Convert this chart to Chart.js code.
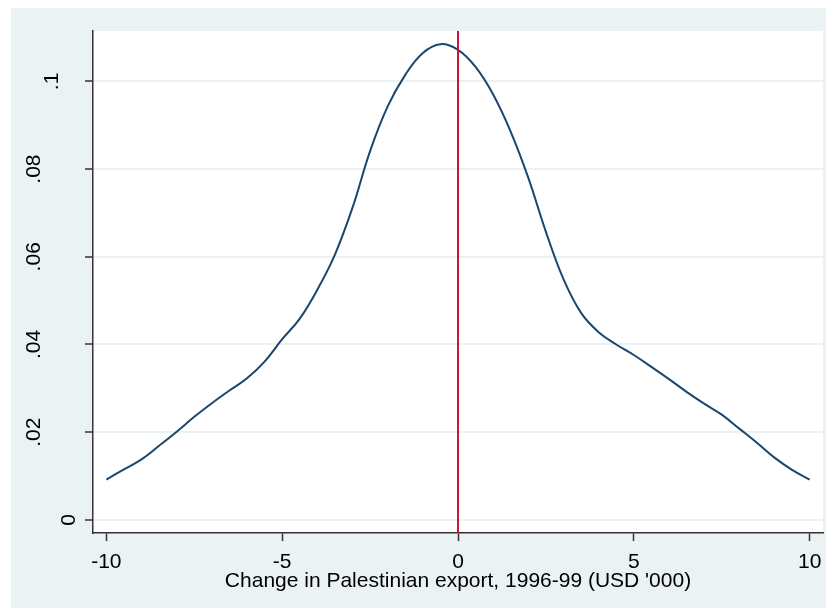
<!DOCTYPE html>
<html>
<head>
<meta charset="utf-8">
<script src="https://cdn.jsdelivr.net/npm/chart.js@4"></script>
<style>
  body { margin: 0; background: #fff; }
</style>
</head>
<body>
<canvas id="kdens" width="832" height="609"></canvas>
<script>
// kernel density of the change in exports
const xValues = [-10, -9.5, -9, -8.5, -8, -7.5, -7, -6.5, -6, -5.5, -5, -4.5, -4, -3.5, -3, -2.5, -2, -1.5, -1, -0.5,
                 0, 0.5, 1, 1.5, 2, 2.5, 3, 3.5, 4, 4.5, 5, 5.5, 6, 6.5, 7, 7.5, 8, 8.5, 9, 9.5, 10];
const density = [0.0092, 0.0115, 0.0138, 0.0169, 0.0201, 0.0235, 0.0266, 0.0295, 0.0323, 0.0361, 0.0412, 0.0459, 0.0525, 0.0605, 0.0712, 0.0841, 0.0943, 0.1015, 0.1065, 0.1085,
                 0.1072, 0.1033, 0.0970, 0.0885, 0.0780, 0.0657, 0.0549, 0.0472, 0.0428, 0.0400, 0.0376, 0.0349, 0.0321, 0.0292, 0.0265, 0.0240, 0.0208, 0.0176, 0.0142, 0.0114, 0.0092];

const xTicks = [-10, -5, 0, 5, 10];
const yTicks = [0, 0.02, 0.04, 0.06, 0.08, 0.1];
const yTickLabels = ['0', '.02', '.04', '.06', '.08', '.1'];
const refLineX = 0;
const xTitle = "Change in Palestinian export, 1996-99 (USD '000)";

const FONT = 'Arial, "Liberation Sans", sans-serif';
const FSIZE = 21;

// grey panel behind the plot, white plot region
const backdrop = {
    id: 'backdrop',
    beforeDraw(chart) {
        const ctx = chart.ctx;
        const a = chart.chartArea;
        ctx.save();
        ctx.fillStyle = '#eaf2f3';
        ctx.fillRect(11, 8, 815, 600);
        ctx.fillStyle = '#ffffff';
        ctx.fillRect(a.left, a.top, a.right - a.left, a.bottom - a.top);
        ctx.restore();
    }
};

// red reference line at x = 0
const refLine = {
    id: 'refLine',
    afterDatasetsDraw(chart) {
        const ctx = chart.ctx;
        const a = chart.chartArea;
        const px = chart.scales.x.getPixelForValue(refLineX);
        ctx.save();
        ctx.strokeStyle = '#cc1439';
        ctx.lineWidth = 2;
        ctx.beginPath();
        ctx.moveTo(px, a.top);
        ctx.lineTo(px, a.bottom);
        ctx.stroke();
        ctx.restore();
    }
};

// vertical y labels, placed stata-style (shift by label length)
const yLabels = {
    id: 'yLabels',
    afterDraw(chart) {
        const ctx = chart.ctx;
        const ys = chart.scales.y;
        ctx.save();
        ctx.font = FSIZE + 'px ' + FONT;
        ctx.fillStyle = '#000';
        ctx.textAlign = 'center';
        ctx.textBaseline = 'middle';
        yTicks.forEach((v, i) => {
            const lab = yTickLabels[i];
            const cx = 87 - 17.5 * lab.length;
            ctx.save();
            ctx.translate(cx, ys.getPixelForValue(v));
            ctx.rotate(-Math.PI / 2);
            ctx.fillText(lab, 0, 0);
            ctx.restore();
        });
        ctx.restore();
    }
};

const config = {
    type: 'line',
    data: {
        datasets: [{
            label: 'density',
            data: xValues.map((x, i) => ({ x: x, y: density[i] })),
            borderColor: '#1a476f',
            borderWidth: 2,
            pointRadius: 0,
            tension: 0.4,
            fill: false
        }]
    },
    options: {
        responsive: false,
        animation: false,
        layout: { padding: { top: 31, right: 9, left: 0, bottom: 0 } },
        plugins: {
            legend: { display: false },
            tooltip: { enabled: false }
        },
        scales: {
            x: {
                type: 'linear',
                min: -10.38,
                max: 10.38,
                afterBuildTicks: (s) => { s.ticks = xTicks.map(v => ({ value: v })); },
                afterFit: (s) => { s.height = 76; },
                grid: { drawOnChartArea: false, drawTicks: true, tickLength: 8, tickColor: '#333', tickWidth: 1.5 },
                border: { display: true, color: '#333', width: 1.5 },
                ticks: { color: '#000', font: { size: FSIZE, family: FONT }, padding: 9, maxRotation: 0 },
                title: { display: true, text: xTitle, color: '#000', font: { size: FSIZE, family: FONT }, padding: { top: 0, bottom: 15 } }
            },
            y: {
                min: -0.003,
                max: 0.1115,
                afterBuildTicks: (s) => { s.ticks = yTicks.map(v => ({ value: v })); },
                afterFit: (s) => { s.width = 93; },
                grid: { color: '#eaf2f3', lineWidth: 2, drawTicks: true, tickLength: 8, tickColor: '#333', tickWidth: 1.5 },
                border: { display: true, color: '#333', width: 1.5 },
                ticks: { display: false }
            }
        }
    },
    plugins: [backdrop, refLine, yLabels]
};

const kdChart = new Chart(document.getElementById('kdens'), config);
</script>
</body>
</html>
